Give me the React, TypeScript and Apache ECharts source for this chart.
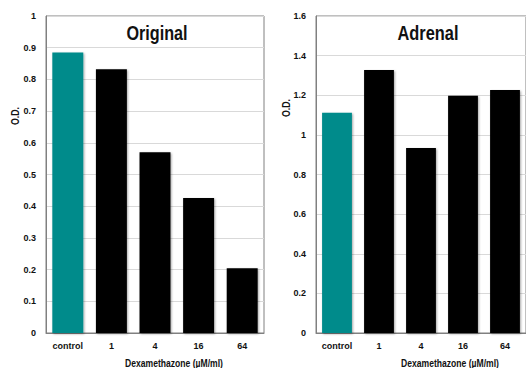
import React, { useEffect, useRef } from "react";
import * as echarts from "echarts";

const categories = ["control", "1", "4", "16", "64"];
const originalValues = [0.885, 0.832, 0.57, 0.426, 0.204];
const adrenalValues = [1.112, 1.328, 0.934, 1.198, 1.227];
const titles = ["Original", "Adrenal"];
const yAxisName = "O.D.";
const xAxisName = "Dexamethazone (µM/ml)";

const FONT = "'Liberation Sans', Arial, sans-serif";
const TEAL = "#008b8b";
const BORDER = "#808080";

export default function App() {
  const ref = useRef<HTMLDivElement>(null);
  useEffect(() => {
    document.body.style.margin = "0";
    if (!ref.current) return;
    const chart = echarts.init(ref.current, null, { renderer: "svg" });
    const grids = [
      { left: 46, top: 16, width: 218, height: 317 },
      { left: 316, top: 16, width: 218, height: 317 },
    ];
    const barData = (vals: number[]) =>
      vals.map((v, i) => ({
        value: v,
        itemStyle: { color: i === 0 ? TEAL : "#000000" },
      }));
    const xAxis = (gi: number) => ({
      type: "category",
      gridIndex: gi,
      data: categories,
      axisLine: { show: true, lineStyle: { color: BORDER, width: 1 } },
      axisTick: { show: false },
      axisLabel: { interval: 0, color: "#111", fontFamily: FONT, fontWeight: "bold", fontSize: 9, margin: 8 },
    });
    const yAxis = (gi: number, max: number, interval: number) => ({
      type: "value",
      gridIndex: gi,
      min: 0,
      max,
      interval,
      axisLine: { show: true, lineStyle: { color: BORDER, width: 1 } },
      axisTick: { show: false },
      splitLine: { show: true, lineStyle: { color: "#d9d9d9", width: 1 } },
      axisLabel: { color: "#111", fontFamily: FONT, fontWeight: "bold", fontSize: 9, margin: 10 },
    });
    const barStyle = {
      shadowBlur: 2,
      shadowColor: "rgba(0,0,0,0.35)",
      shadowOffsetX: 1,
      shadowOffsetY: 1,
    };
    const txt = (text: string, x: number, y: number, size: number, sx: number, rotation = 0) => ({
      type: "text",
      x,
      y,
      rotation,
      scaleX: sx,
      style: {
        text,
        fill: "#111",
        font: `bold ${size}px ${FONT}`,
        align: "center",
        verticalAlign: "middle",
      },
    });
    chart.setOption({
      animation: false,
      grid: grids.map((g) => ({ ...g, show: true, borderColor: BORDER, borderWidth: 1, backgroundColor: "transparent" })),
      xAxis: [xAxis(0), xAxis(1)],
      yAxis: [yAxis(0, 1, 0.1), yAxis(1, 1.6, 0.2)],
      series: [
        {
          type: "bar",
          xAxisIndex: 0,
          yAxisIndex: 0,
          data: barData(originalValues),
          barWidth: "71%",
          itemStyle: barStyle,
        },
        {
          type: "bar",
          xAxisIndex: 1,
          yAxisIndex: 1,
          data: barData(adrenalValues),
          barWidth: "71%",
          itemStyle: barStyle,
        },
      ],
      graphic: [
        txt(titles[0], 157, 33, 21, 0.77),
        txt(titles[1], 428, 33, 21, 0.78),
        txt(yAxisName, 15, 116, 10, 0.88, Math.PI / 2),
        txt(yAxisName, 286, 108, 10, 0.88, Math.PI / 2),
        txt(xAxisName, 174, 363, 11, 0.78),
        txt(xAxisName, 450, 363, 11, 0.78),
      ],
    });
    return () => chart.dispose();
  }, []);
  return <div ref={ref} style={{ width: 526, height: 368 }} />;
}
